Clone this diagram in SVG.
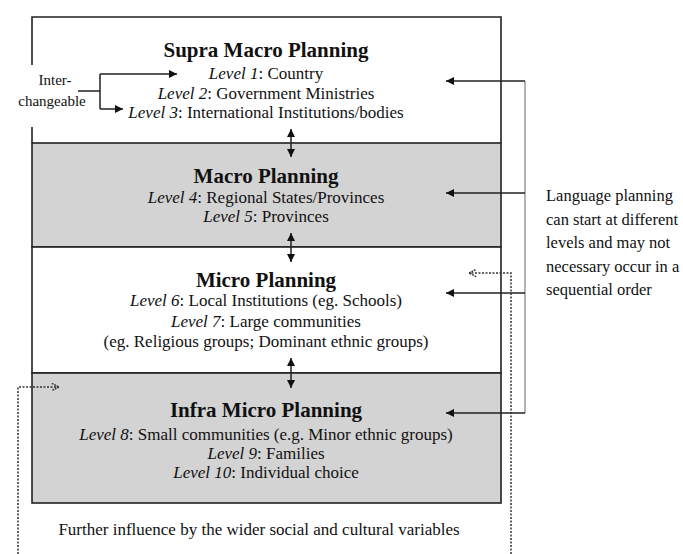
<svg xmlns="http://www.w3.org/2000/svg" width="683" height="554" viewBox="0 0 683 554" font-family="'Liberation Serif', 'Times New Roman', serif">
<style>
text{font-family:"Liberation Serif","Times New Roman",serif;fill:#111;}
.t{font-size:21px;font-weight:bold;text-anchor:middle;}
.l{font-size:17px;text-anchor:middle;}
.i{font-size:15px;text-anchor:middle;}
.s{font-size:16.5px;}
.box{stroke:#222;stroke-width:1.6;}
.c{stroke:#222;stroke-width:1.5;fill:none;}
.g{stroke:#999;stroke-width:1.5;fill:none;}
.d{stroke:#333;stroke-width:1.5;fill:none;stroke-dasharray:2 1.5;}
</style>
<defs>
<marker id="ah" viewBox="0 0 10 10" refX="10" refY="5" markerWidth="8" markerHeight="8" markerUnits="userSpaceOnUse" orient="auto-start-reverse"><path d="M0,0 L10,5 L0,10 Z" fill="#111"/></marker>
<marker id="oh" viewBox="0 0 10 10" refX="9" refY="5" markerWidth="9" markerHeight="9" markerUnits="userSpaceOnUse" orient="auto"><path d="M1,1 L9,5 L1,9" fill="none" stroke="#333" stroke-width="1.6" stroke-dasharray="2 1"/></marker>
</defs>
<rect width="683" height="554" fill="#fff"/>
<g id="supra">
<path class="box" d="M32,65 V17 H501 V143 M32,127 V143" fill="none"/>
<text class="t" x="266" y="57">Supra Macro Planning</text>
<text class="l" x="266" y="79"><tspan font-style="italic">Level 1</tspan>: Country</text>
<text class="l" x="266" y="99"><tspan font-style="italic">Level 2</tspan>: Government Ministries</text>
<text class="l" x="266" y="118"><tspan font-style="italic">Level 3</tspan>: International Institutions/bodies</text>
</g>
<g id="macro">
<rect class="box" x="32" y="143" width="469" height="104" fill="#d3d3d3"/>
<text class="t" x="266" y="183">Macro Planning</text>
<text class="l" x="266" y="203"><tspan font-style="italic">Level 4</tspan>: Regional States/Provinces</text>
<text class="l" x="266" y="222"><tspan font-style="italic">Level 5</tspan>: Provinces</text>
</g>
<g id="micro">
<rect class="box" x="32" y="247" width="469" height="126" fill="#fff"/>
<text class="t" x="266" y="287">Micro Planning</text>
<text class="l" x="266" y="306"><tspan font-style="italic">Level 6</tspan>: Local Institutions (eg. Schools)</text>
<text class="l" x="266" y="327"><tspan font-style="italic">Level 7</tspan>: Large communities</text>
<text class="l" x="266" y="347">(eg. Religious groups; Dominant ethnic groups)</text>
</g>
<g id="infra">
<rect class="box" x="32" y="373" width="469" height="130" fill="#d3d3d3" stroke-width="2"/>
<text class="t" x="266" y="417">Infra Micro Planning</text>
<text class="l" x="266" y="440"><tspan font-style="italic">Level 8</tspan>: Small communities (e.g. Minor ethnic groups)</text>
<text class="l" x="266" y="459"><tspan font-style="italic">Level 9</tspan>: Families</text>
<text class="l" x="266" y="478"><tspan font-style="italic">Level 10</tspan>: Individual choice</text>
</g>
<g id="interchangeable">
<text class="i" x="55" y="85">Inter-</text>
<text class="i" x="52" y="106">changeable</text>
</g>
<g id="note">
<text class="s" x="546" y="201">Language planning</text>
<text class="s" x="546" y="225">can start at different</text>
<text class="s" x="546" y="248">levels and may not</text>
<text class="s" x="546" y="272">necessary occur in a</text>
<text class="s" x="546" y="295">sequential order</text>
</g>
<g id="further">
<text class="l" x="259" y="535" font-size="15.5">Further influence by the wider social and cultural variables</text>
</g>
<g id="connectors">
<path class="c" d="M78,91 H100 M100,74 V109" />
<path class="c" d="M100,74 H177" marker-end="url(#ah)"/>
<path class="c" d="M100,109 H123" marker-end="url(#ah)"/>
<path class="c" d="M291,129 V157" marker-start="url(#ah)" marker-end="url(#ah)"/>
<path class="c" d="M291,233 V262" marker-start="url(#ah)" marker-end="url(#ah)"/>
<path class="c" d="M291,358 V388" marker-start="url(#ah)" marker-end="url(#ah)"/>
<path class="g" d="M525,81 V413"/>
<path class="c" d="M525,81 H446" marker-end="url(#ah)"/>
<path class="c" d="M525,193 H446" marker-end="url(#ah)" stroke="#555"/>
<path class="c" d="M525,293 H446" marker-end="url(#ah)"/>
<path class="c" d="M525,413 H446" marker-end="url(#ah)" stroke="#555"/>
<path class="d" d="M511,554 V273 H469" marker-end="url(#oh)"/>
<path class="d" d="M18,554 V387 H59" marker-end="url(#oh)"/>
</g>
</svg>
